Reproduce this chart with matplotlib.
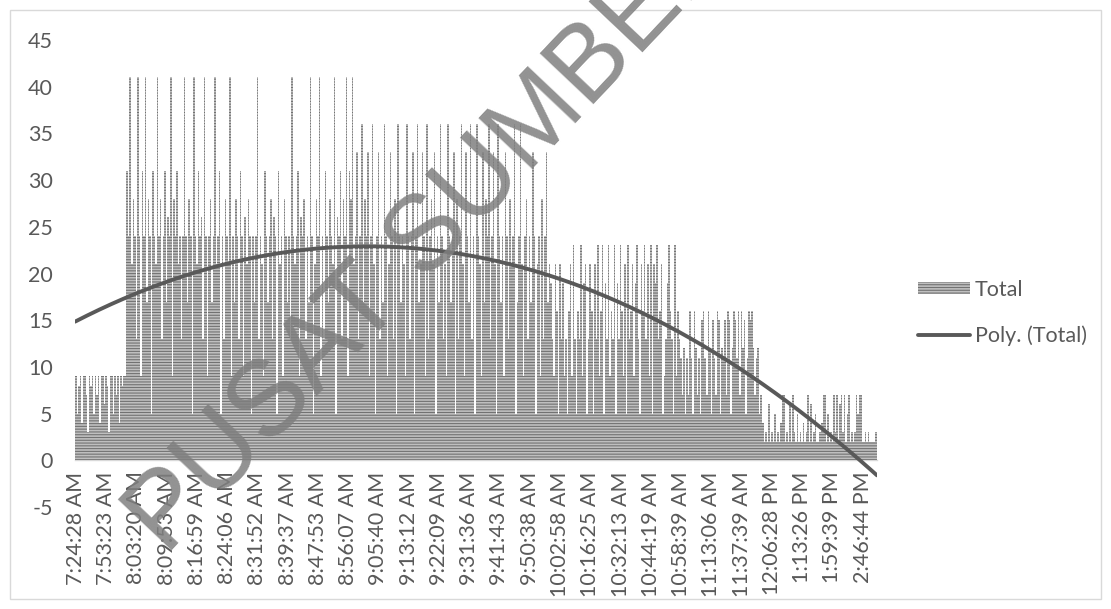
import numpy as np
import matplotlib
matplotlib.use("Agg")
import matplotlib.pyplot as plt
from matplotlib.patches import Rectangle

plt.rcParams['font.family'] = ['Lato', 'DejaVu Sans']
plt.rcParams['axes.unicode_minus'] = False
plt.rcParams['hatch.linewidth'] = 0.8

# Category labels shown on the time axis (one every TICK_STEP records)
time_labels = [
    "7:24:28 AM", "7:53:23 AM", "8:03:20 AM", "8:09:53 AM", "8:16:59 AM",
    "8:24:06 AM", "8:31:52 AM", "8:39:37 AM", "8:47:53 AM", "8:56:07 AM",
    "9:05:40 AM", "9:13:12 AM", "9:22:09 AM", "9:31:36 AM", "9:41:43 AM",
    "9:50:38 AM", "10:02:58 AM", "10:16:25 AM", "10:32:13 AM", "10:44:19 AM",
    "10:58:39 AM", "11:13:06 AM", "11:37:39 AM", "12:06:28 PM", "1:13:26 PM",
    "1:59:39 PM", "2:46:44 PM",
]
TICK_STEP = 20

# Visitor totals per record, grouped by hour of arrival
total_07 = [9, 5, 8, 9, 4, 9, 9, 7, 3, 9, 8, 9, 5, 9, 7, 9, 4, 9, 9, 6,
            9, 8, 3, 9, 9, 5, 9, 7, 9, 4, 9, 8, 9, 9]
total_08 = [31, 24, 41, 21, 28, 24, 13, 41, 24, 9,
            31, 24, 41, 17, 28, 24, 5, 31, 24, 21,
            41, 24, 28, 13, 24, 31, 17, 26, 24, 41,
            9, 28, 24, 31, 21, 24, 13, 24, 41, 24,
            17, 28, 24, 5, 41, 24, 21, 31, 24, 26,
            13, 41, 24, 9, 24, 28, 17, 24, 41, 21,
            24, 31, 5, 24, 13, 28, 24, 21, 41, 9,
            24, 17, 28, 24, 13, 31, 24, 9, 26, 21,
            28, 24, 5, 24, 17, 24, 41, 13, 24, 21,
            9, 31, 24, 17, 24, 28, 13, 26, 24, 5,
            31, 21, 24, 9, 28, 24, 17, 24, 13, 41,
            24, 21, 24, 31, 9, 26, 24, 28, 13, 24,
            17, 41, 24, 5, 21, 28, 24, 41, 9, 24,
            13, 31, 24, 17, 28, 24, 21, 41, 5, 26,
            24, 31, 13, 28, 24, 41, 9, 31, 28, 41]
total_09 = [21, 24, 33, 13, 24, 36, 17, 28, 24, 33,
            9, 24, 36, 21, 5, 24, 33, 13, 24, 17,
            36, 24, 9, 21, 33, 24, 13, 28, 5, 36,
            24, 17, 24, 21, 9, 36, 24, 13, 24, 33,
            5, 24, 36, 17, 21, 33, 24, 9, 36, 13,
            24, 28, 21, 33, 5, 24, 17, 36, 24, 13,
            21, 9, 36, 24, 17, 24, 33, 5, 28, 13,
            24, 36, 21, 9, 33, 24, 17, 36, 13, 24,
            5, 36, 24, 21, 9, 33, 17, 28, 24, 36,
            13, 24, 33, 21, 5, 36, 24, 17, 24, 9,
            33, 24, 13, 28, 21, 24, 36, 5, 17, 24,
            36, 21, 9, 24, 28, 13, 24, 17, 33, 24,
            5, 21, 24, 9, 28, 13, 24, 33, 17, 21]
total_10 = [19, 13, 9, 21, 16, 5, 21, 13, 19, 9,
            13, 5, 16, 21, 9, 23, 13, 5, 16, 13,
            23, 9, 19, 21, 5, 13, 21, 16, 5, 21,
            13, 23, 9, 16, 23, 5, 19, 13, 23, 9,
            16, 13, 23, 5, 19, 13, 23, 16, 9, 21,
            5, 23, 13, 16, 21, 9, 19, 23, 13, 5,
            21, 16, 23, 13, 21, 9, 23, 5, 21, 19,
            23, 13, 16, 21, 5, 9, 13, 19, 23, 16,
            13, 5, 23, 9, 16, 13]
total_11 = [11, 7, 12, 5, 11, 7, 16, 11, 5, 16,
            12, 7, 11, 5, 15, 16, 11, 7, 16, 12,
            5, 15, 11, 7, 16, 15, 5, 12, 11, 15,
            7, 16, 15, 5, 12, 16, 15, 11, 16, 7,
            16, 12, 15, 5, 11, 16, 15, 16, 12, 7,
            11, 12, 5, 7]
total_12_14 = [4, 2, 3, 2, 6, 2, 3, 2, 5, 2,
               3, 2, 4, 7, 7, 2, 3, 2, 6, 2,
               7, 3, 2, 5, 2, 3, 2, 4, 2, 3,
               7, 2, 6, 2, 3, 5, 2, 2, 3, 4,
               7, 7, 2, 5, 2, 3, 2, 7, 3, 7,
               2, 6, 7, 3, 7, 2, 5, 7, 2, 3,
               2, 3, 7, 5, 7, 7, 2, 2]
total_15 = [3, 2, 3, 2, 2, 2, 2, 3]

totals = np.array(total_07 + total_08 + total_09 + total_10 + total_11
                  + total_12_14 + total_15, dtype=float)
n = len(totals)
idx = np.arange(n)

W, H = 1111, 609
FS = 15.5
fig = plt.figure(figsize=(W / 100, H / 100), dpi=100)
fig.patches.append(Rectangle((10 / W, 10 / H), 1091 / W, 589 / H,
                             transform=fig.transFigure, fill=False,
                             edgecolor='#d9d9d9', linewidth=1.0))

ax = fig.add_axes([75 / W, 1 - 507 / H, 802 / W, 467 / H])
ax.patch.set_visible(False)
for s in ('top', 'right', 'left'):
    ax.spines[s].set_visible(False)
ax.spines['bottom'].set_position(('data', 0))
ax.spines['bottom'].set_color('#d9d9d9')
ax.spines['bottom'].set_linewidth(1.0)
ax.spines['bottom'].set_zorder(1)

bars = ax.bar(idx, totals, width=1.0, color='#bfbfbf', edgecolor='#727272',
              linewidth=0, hatch='------', zorder=2)

# Second-order polynomial trend of the totals
coef = np.polyfit(idx + 1, totals, 2)
xs = np.linspace(-0.5, n - 0.5, 400)
trend, = ax.plot(xs, np.polyval(coef, xs + 1), color='#595959',
                 linewidth=2.8, solid_capstyle='round', zorder=3)

ax.set_xlim(-0.5, n - 0.5)
ax.set_ylim(-5, 45)
ax.set_yticks(np.arange(-5, 46, 5))
ax.set_yticklabels([str(v) for v in range(-5, 46, 5)])
ax.set_xticks(idx[::TICK_STEP])
ax.set_xticklabels(time_labels)
ax.tick_params(axis='x', length=0, pad=8, labelsize=FS, labelcolor='#595959',
               labelrotation=90)
ax.tick_params(axis='y', length=0, pad=16, labelsize=FS, labelcolor='#595959')

ax.legend([bars, trend], ['Total', 'Poly. (Total)'], loc='center left',
          bbox_to_anchor=(918 / W, 1 - 313 / H),
          bbox_transform=fig.transFigure, frameon=False, fontsize=FS,
          labelcolor='#595959', handlelength=2.4, handleheight=0.5,
          handletextpad=0.23, labelspacing=1.2, borderpad=0,
          borderaxespad=0)

fig.text(166 / W, 1 - 556 / H, "PUSAT SUMBER", rotation=46.6,
         rotation_mode='anchor', ha='left', va='baseline',
         fontsize=77, family='Liberation Sans', color='#7f7f7f', alpha=0.85,
         zorder=10)

fig.savefig("out.png", dpi=100)
